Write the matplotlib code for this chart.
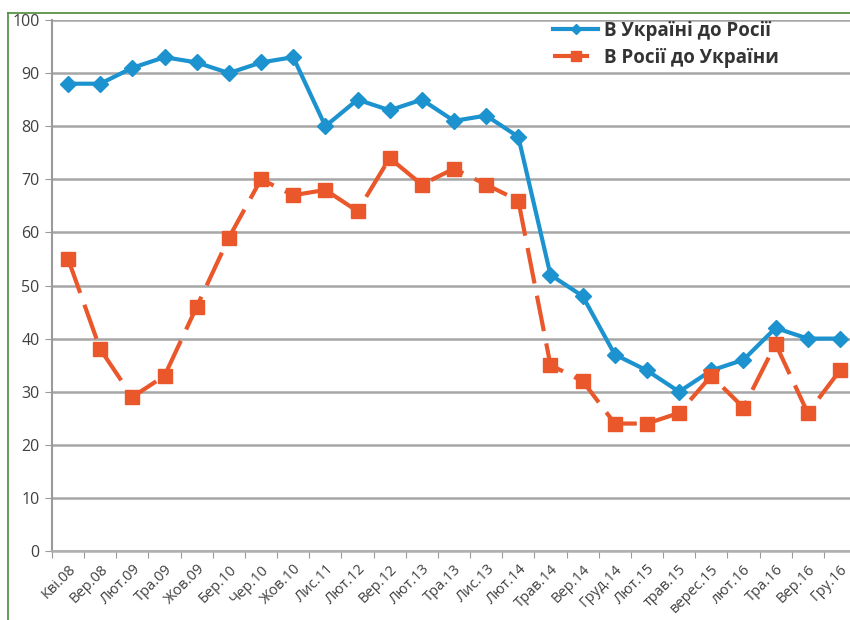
import matplotlib
matplotlib.use("Agg")
import matplotlib.pyplot as plt
from matplotlib.lines import Line2D

plt.rcParams['font.family'] = ['Open Sans', 'DejaVu Sans']
plt.rcParams['lines.scale_dashes'] = False

labels = ['Кві.08', 'Вер.08', 'Лют.09', 'Тра.09', 'Жов.09', 'Бер.10', 'Чер.10',
          'Жов.10', 'Лис.11', 'Лют.12', 'Вер.12', 'Лют.13', 'Тра.13', 'Лис.13',
          'Лют.14', 'Трав.14', 'Вер.14', 'Груд.14', 'Лют.15', 'трав.15',
          'верес.15', 'лют.16', 'Тра.16', 'Вер.16', 'Гру.16']
ukr_to_rus = [88, 88, 91, 93, 92, 90, 92, 93, 80, 85, 83, 85, 81, 82, 78,
              52, 48, 37, 34, 30, 34, 36, 42, 40, 40]
rus_to_ukr = [55, 38, 29, 33, 46, 59, 70, 67, 68, 64, 74, 69, 72, 69, 66,
              35, 32, 24, 24, 26, 33, 27, 39, 26, 34]

blue = '#1c93cf'
orange = '#e9572b'

fig = plt.figure(figsize=(8.5, 6.2), dpi=100)
ax = fig.add_axes([52 / 850, 1 - 551 / 620, 804 / 850, 531 / 620])

x = list(range(len(labels)))
ax.plot(x, ukr_to_rus, color=blue, lw=3, marker='D', ms=8,
        label='В Україні до Росії', zorder=3)
ax.plot(x, rus_to_ukr, color=orange, lw=3, marker='s', ms=10,
        dashes=(26, 9), label='В Росії до України', zorder=3)

ax.set_xlim(-0.5, len(labels) - 0.5)
ax.set_ylim(0, 100)
ax.set_yticks(range(0, 101, 10))
ax.yaxis.grid(True, color='#a6a6a6', lw=1.8)
ax.set_axisbelow(True)
for s in ['top', 'right']:
    ax.spines[s].set_visible(False)
ax.spines['left'].set_color('#9a9a9a')
ax.spines['bottom'].set_color('#b0b0b0')
ax.spines['left'].set_linewidth(1.5)
ax.spines['bottom'].set_linewidth(1.8)

# ticks between categories, labels under points
ax.set_xticks([i - 0.5 for i in range(len(labels) + 1)])
ax.set_xticklabels([])
ax.set_xticks(x, minor=True)
ax.set_xticklabels(labels, minor=True, rotation=45, ha='right',
                   rotation_mode='anchor', fontsize=10.5, color='#404040')
ax.tick_params(axis='x', which='minor', length=0, pad=8)
ax.tick_params(axis='x', which='major', length=5, color='#9a9a9a')
ax.tick_params(axis='y', length=5, color='#9a9a9a', labelsize=11.5,
               labelcolor='#404040', pad=4)

leg = ax.legend(loc='upper left', bbox_to_anchor=(553 / 850, 1 - 21 / 620),
                bbox_transform=fig.transFigure, frameon=False,
                borderaxespad=0, borderpad=0,
                prop={'weight': 'bold', 'size': 13.5},
                handlelength=2.4, handletextpad=0.3, labelspacing=0.35,
                markerscale=0.7)
for t in leg.get_texts():
    t.set_color('#333333')

# green frame of the original figure
fig.add_artist(Line2D([8 / 850, 8 / 850], [0, 1 - 13 / 620], color='#4a8a3a', lw=1.2))
fig.add_artist(Line2D([8 / 850, 1], [1 - 13 / 620, 1 - 13 / 620], color='#4a8a3a', lw=1.2))

fig.savefig('out.png', dpi=100)
